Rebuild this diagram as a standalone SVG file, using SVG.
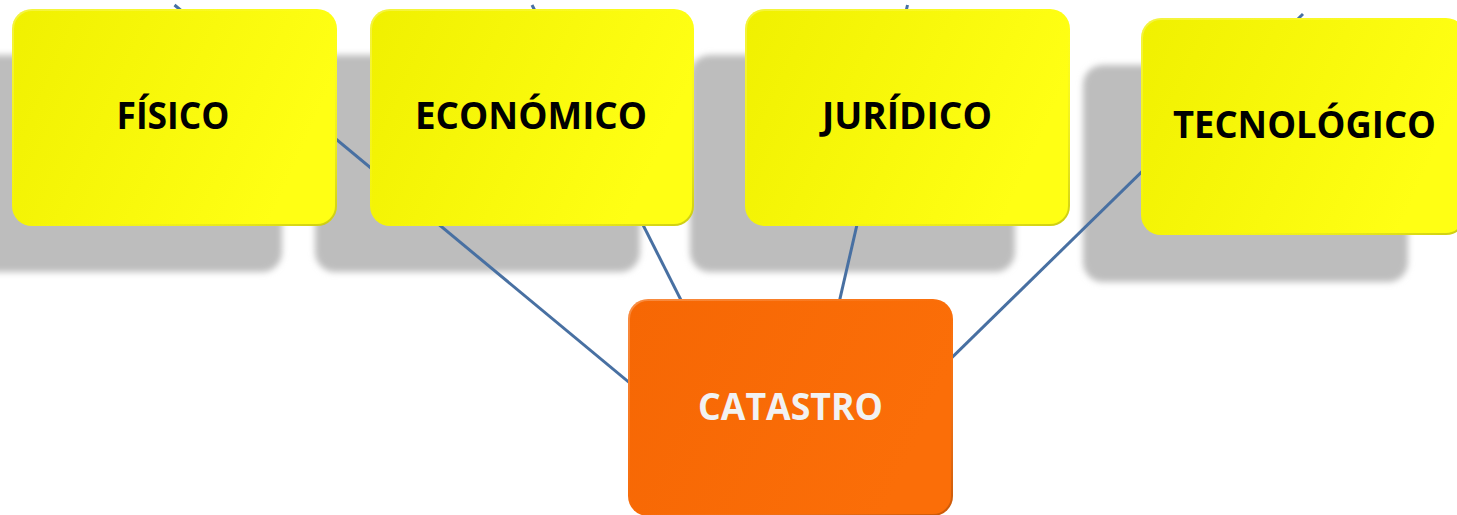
<svg xmlns="http://www.w3.org/2000/svg" width="1457" height="515" viewBox="0 0 1457 515">
<defs>
<filter id="blur" x="-10%" y="-10%" width="120%" height="120%"><feGaussianBlur stdDeviation="3"/></filter>
<linearGradient id="yel" x1="0" y1="0" x2="1" y2="0.3">
<stop offset="0" stop-color="#F0F000"/><stop offset="1" stop-color="#FFFF14"/>
</linearGradient>
<linearGradient id="org" x1="0" y1="0" x2="1" y2="0.3">
<stop offset="0" stop-color="#F66704"/><stop offset="1" stop-color="#FB6E08"/>
</linearGradient>
<linearGradient id="bev" x1="0" y1="0" x2="1" y2="1">
<stop offset="0" stop-color="#FFFFFF" stop-opacity="0.25"/><stop offset="0.5" stop-color="#FFFFFF" stop-opacity="0"/><stop offset="1" stop-color="#000000" stop-opacity="0.2"/>
</linearGradient>
</defs>
<style>
.sh{fill:#BDBDBD;filter:url(#blur)}
.yb{fill:url(#yel)}
.ob{fill:url(#org)}
.edge{fill:none;stroke:url(#bev);stroke-width:2}
.lbl{font-family:"Open Sans","Liberation Sans",sans-serif;font-weight:700;font-size:37px;text-anchor:middle;fill:#000}
.lblw{fill:#F2F2F2}
.con{stroke:#4870A2;stroke-width:3;fill:none}
</style>
<g id="shadows">
<rect class="sh" x="-43" y="55" width="325" height="217" rx="20"/>
<rect class="sh" x="315" y="55" width="325" height="217" rx="20"/>
<rect class="sh" x="690" y="55" width="325" height="217" rx="20"/>
<rect class="sh" x="1083" y="65" width="325" height="217" rx="20"/>
</g>
<g id="connectors">
<line class="con" x1="174.5" y1="5" x2="790" y2="516"/>
<line class="con" x1="532" y1="5" x2="790" y2="516"/>
<line class="con" x1="907.5" y1="5" x2="790" y2="516"/>
<line class="con" x1="1303" y1="14" x2="790" y2="516"/>
</g>
<g id="fisico">
<rect class="yb" x="12" y="9" width="325" height="217" rx="20"/>
<rect class="edge" x="13" y="10" width="323" height="215" rx="19"/>
<text class="lbl" x="173" y="129" textLength="113" lengthAdjust="spacingAndGlyphs">FÍSICO</text>
</g>
<g id="economico">
<rect class="yb" x="370" y="9" width="324" height="217" rx="20"/>
<rect class="edge" x="371" y="10" width="322" height="215" rx="19"/>
<text class="lbl" x="531" y="129" textLength="232" lengthAdjust="spacingAndGlyphs">ECONÓMICO</text>
</g>
<g id="juridico">
<rect class="yb" x="745" y="9" width="325" height="217" rx="20"/>
<rect class="edge" x="746" y="10" width="323" height="215" rx="19"/>
<text class="lbl" x="907" y="129" textLength="170" lengthAdjust="spacingAndGlyphs">JURÍDICO</text>
</g>
<g id="tecnologico">
<rect class="yb" x="1141" y="18" width="325" height="217" rx="20"/>
<rect class="edge" x="1142" y="19" width="323" height="215" rx="19"/>
<text class="lbl" x="1304.5" y="138" textLength="263" lengthAdjust="spacingAndGlyphs">TECNOLÓGICO</text>
</g>
<g id="catastro">
<rect class="ob" x="628" y="299" width="325" height="217" rx="20"/>
<rect class="edge" x="629" y="300" width="323" height="215" rx="19"/>
<text class="lbl lblw" x="790.5" y="420" textLength="185" lengthAdjust="spacingAndGlyphs">CATASTRO</text>
</g>
</svg>
